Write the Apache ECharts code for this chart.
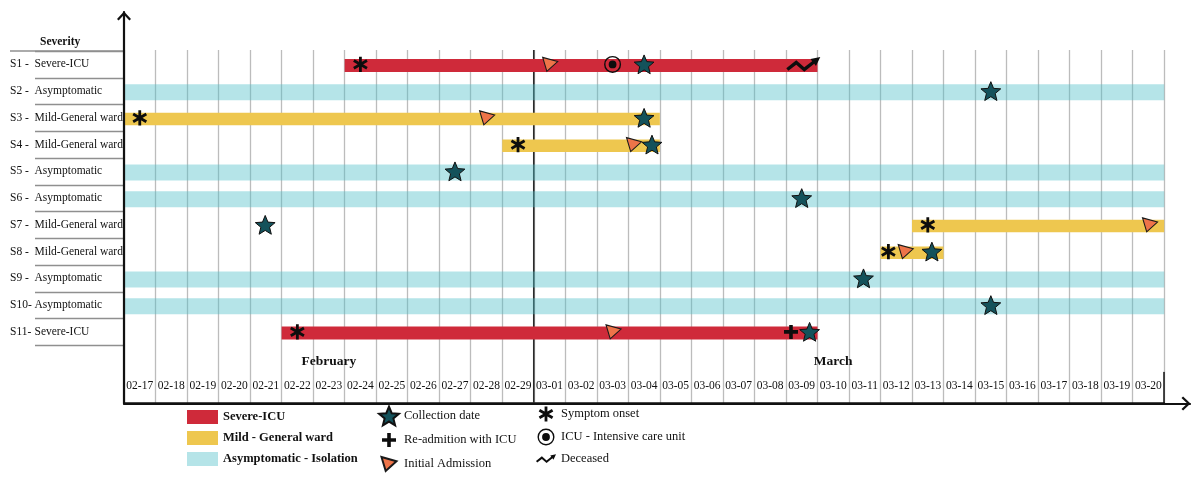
<!DOCTYPE html>
<html><head><meta charset="utf-8">
<script src="https://cdn.jsdelivr.net/npm/echarts@6/dist/echarts.min.js"></script>
<style>html,body{margin:0;padding:0;background:#fff}#c{width:1200px;height:483px}</style>
</head><body><div id="c"></div>
<script>
// ---------- data ----------
const dates = ['02-17','02-18','02-19','02-20','02-21','02-22','02-23','02-24','02-25','02-26','02-27','02-28','02-29',
  '03-01','03-02','03-03','03-04','03-05','03-06','03-07','03-08','03-09','03-10','03-11','03-12','03-13','03-14',
  '03-15','03-16','03-17','03-18','03-19','03-20'];
const subjects = ['S1','S2','S3','S4','S5','S6','S7','S8','S9','S10','S11'];
const subjectTags = ['S1 -','S2 -','S3 -','S4 -','S5 -','S6 -','S7 -','S8 -','S9 -','S10-','S11-'];
const subjectGroups = ['Severe-ICU','Asymptomatic','Mild-General ward','Mild-General ward','Asymptomatic','Asymptomatic',
  'Mild-General ward','Mild-General ward','Asymptomatic','Asymptomatic','Severe-ICU'];
const monthLabels = [['02-23','February'],['03-10','March']];
const monthStart = '03-01';

// [subject, first day, last day]
const severeIcuStays = [['S1','02-24','03-09'],['S11','02-22','03-09']];
const mildWardStays = [['S3','02-17','03-04'],['S4','02-29','03-04'],['S7','03-13','03-20'],['S8','03-12','03-13']];
const isolationStays = [['S2','02-17','03-20'],['S5','02-17','03-20'],['S6','02-17','03-20'],['S9','02-17','03-20'],['S10','02-17','03-20']];

// [subject, day, position within the day]
const collectionDates = [['S1','03-04',0.5],['S2','03-15',0.5],['S3','03-04',0.5],['S4','03-04',0.75],['S5','02-27',0.5],
  ['S6','03-09',0.5],['S7','02-21',0.48],['S8','03-13',0.63],['S9','03-11',0.46],['S10','03-15',0.5],['S11','03-09',0.75]];
const readmissionsIcu = [['S11','03-09',0.16]];
const initialAdmissions = [['S1','03-01',0.52],['S3','02-28',0.52],['S4','03-04',0.18],['S7','03-20',0.55],['S8','03-12',0.8],['S11','03-03',0.53]];
const symptomOnsets = [['S1','02-24',0.5],['S3','02-17',0.5],['S4','02-29',0.5],['S7','03-13',0.5],['S8','03-12',0.25],['S11','02-22',0.5]];
const icuAdmissions = [['S1','03-03',0.5]];
const deaths = [['S1','03-09',0.55]];

// ---------- helpers ----------
const dayIndex = d => dates.indexOf(d);
const stayData = arr => arr.map(([s,a,b]) => [dayIndex(a), dayIndex(b) + 1, s]);
const eventData = arr => arr.map(([s,d,f]) => [dayIndex(d) + f, s]);
const monthMap = Object.fromEntries(monthLabels);
const FONT = '"Liberation Serif","Times New Roman",serif';

// symbol shapes (20x20 box, 1 unit = 1px at symbolSize 20)
const PAD = ' M-10 -10 M10 10';
const STAR = 'path://M0 -9.45 L2.704 -2.772 L9.891 -2.264 L4.375 2.371 L6.113 9.364 L0 5.55 L-6.113 9.364 L-4.375 2.371 L-9.891 -2.264 L-2.704 -2.772 Z' + PAD;
const TRI = 'path://M-7.5 -7 L7.5 -2.8 L-3.3 7 Z' + PAD;
const PLUS = 'path://M-1.8 -7 L1.8 -7 L1.8 -1.8 L7 -1.8 L7 1.8 L1.8 1.8 L1.8 7 L-1.8 7 L-1.8 1.8 L-7 1.8 L-7 -1.8 L-1.8 -1.8 Z' + PAD;
const AST = 'path://M-1.4 -7.6 L-1.4 7.6 L1.4 7.6 L1.4 -7.6 Z M5.882 5.013 L7.282 2.588 L-5.882 -5.013 L-7.282 -2.588 Z M-7.282 2.588 L-5.882 5.013 L7.282 -2.588 L5.882 -5.013 Z' + PAD;
const RING = 'path://M-8.5 0 A8.5 8.5 0 1 0 8.5 0 A8.5 8.5 0 1 0 -8.5 0 Z M-7.1 0 A7.1 7.1 0 1 1 7.1 0 A7.1 7.1 0 1 1 -7.1 0 Z M-3.9 0 A3.9 3.9 0 1 0 3.9 0 A3.9 3.9 0 1 0 -3.9 0 Z' + PAD;
// zigzag arrow in a 34 x 29.6 box
const DEAD = 'path://M-17.04 3.81 L-7 -4.05 L1 2.95 L8.96 -3.19 L7.24 -5.4 L17.1 -7.35 L12.76 1.7 L11.04 -0.51 L1 7.35 L-7 0.35 L-14.96 6.49 Z M-17 -14.8 M17 14.8';
const CHEVRON = 'path://M0 7.4 L7 0 L14 7.4 L12.4 9 L7 3.2 L1.6 9 Z';

function staySeries(name, data, color, h) {
  return {
    type: 'custom', name, xAxisIndex: 0, yAxisIndex: 0, z: 2,
    itemStyle: { color, opacity: 1 },
    encode: { x: [0, 1], y: 2 },
    data,
    renderItem: (params, api) => {
      const p0 = api.coord([api.value(0), api.value(2)]);
      const p1 = api.coord([api.value(1), api.value(2)]);
      return { type: 'rect', shape: { x: p0[0], y: p0[1] - h / 2 + 1, width: p1[0] - p0[0], height: h }, style: api.style() };
    }
  };
}
function eventSeries(name, data, symbol, size, style) {
  return { type: 'scatter', name, xAxisIndex: 0, yAxisIndex: 0, z: 4, symbol, symbolSize: size,
    itemStyle: Object.assign({ opacity: 1 }, style), data, emphasis: { scale: false } };
}

const hidden = { axisLine: { show: false }, axisTick: { show: false }, axisLabel: { show: false }, splitLine: { show: false } };
const L = 124, R = 35.8;

const option = {
  animation: false,
  backgroundColor: '#fff',
  title: { text: 'Severity', left: 40, top: 36, padding: 0,
    textStyle: { fontFamily: FONT, fontSize: 11.5, fontWeight: 'bold', color: '#111' } },
  graphic: [{ type: 'line', shape: { x1: 10, y1: 51, x2: 124, y2: 51 }, style: { stroke: '#8f8f8f', lineWidth: 1.4 } }],
  grid: [
    { left: L, right: R, top: 51, height: 294.25 },          // 0 plot rows
    { left: L, right: R, top: 50, bottom: 80 },              // 1 day gridlines
    { left: L, right: R, top: 372.5, bottom: 80 },           // 2 date table
    { left: L, right: 10, top: 12, bottom: 79.5 }            // 3 axis frame
  ],
  xAxis: [
    Object.assign({ type: 'value', gridIndex: 0, min: 0, max: dates.length }, hidden),
    Object.assign({}, hidden, { type: 'value', gridIndex: 1, min: 0, max: dates.length, interval: 1,
      splitLine: { show: true, lineStyle: { color: '#bcbcbc', width: 1.3 } } }),
    { type: 'category', gridIndex: 2, data: dates, position: 'top',
      axisLine: { show: true, lineStyle: { color: '#111', width: 1.5 } }, axisTick: { show: false },
      axisLabel: { inside: true, interval: 0, margin: 7.5, fontFamily: FONT, fontSize: 11.5, color: '#111' } },
    { type: 'category', gridIndex: 2, data: dates, position: 'top',
      axisLine: { show: false }, axisTick: { show: false },
      axisLabel: { interval: 0, margin: 4, formatter: v => monthMap[v] || '', fontFamily: FONT, fontSize: 13.5, fontWeight: 'bold', color: '#111' } },
    Object.assign({}, hidden, { type: 'value', gridIndex: 3, min: 0, max: 1, z: 10,
      axisLine: { show: true, onZero: false, symbol: ['none', CHEVRON], symbolSize: [14, 9], symbolOffset: [0, -4],
        lineStyle: { color: '#111', width: 2.2 } } })
  ],
  yAxis: [
    { type: 'category', gridIndex: 0, data: subjects, inverse: true,
      axisLine: { show: false }, splitLine: { show: false },
      axisTick: { show: true, length: 89, lineStyle: { color: '#8f8f8f', width: 1.4 } },
      axisLabel: { interval: 0, align: 'left', margin: 114,
        formatter: (v, i) => `{t|${subjectTags[i]}}{g|${subjectGroups[i]}}`,
        rich: { t: { width: 24.5, fontFamily: FONT, fontSize: 11.5, color: '#111' },
                g: { fontFamily: FONT, fontSize: 11.5, color: '#111' } } } },
    Object.assign({ type: 'value', gridIndex: 1, min: 0, max: 1 }, hidden),
    Object.assign({}, hidden, { type: 'value', gridIndex: 2, min: 0, max: 1, position: 'right',
      axisLine: { show: true, onZero: false, lineStyle: { color: '#111', width: 1.5 } } }),
    Object.assign({}, hidden, { type: 'value', gridIndex: 3, min: 0, max: 1, z: 10,
      axisLine: { show: true, onZero: false, symbol: ['none', CHEVRON], symbolSize: [14, 9], symbolOffset: [0, -4],
        lineStyle: { color: '#111', width: 2.2 } } })
  ],
  legend: [
    { data: [{ name: 'Severe-ICU', icon: 'rect' }, { name: 'Mild - General ward', icon: 'rect' }, { name: 'Asymptomatic - Isolation', icon: 'rect' }],
      orient: 'vertical', left: 187, top: 410, itemWidth: 31, itemHeight: 14, itemGap: 7, padding: 0, selectedMode: false,
      textStyle: { fontFamily: FONT, fontSize: 12.5, fontWeight: 'bold', color: '#111' } },
    { data: ['Collection date', 'Re-admition with ICU', 'Initial Admission'],
      orient: 'vertical', left: 378, top: 405, itemWidth: 20, itemHeight: 20, itemGap: 3, padding: 0, selectedMode: false,
      textStyle: { fontFamily: FONT, fontSize: 12.5, color: '#111' } },
    { data: ['Symptom onset', 'ICU - Intensive care unit', 'Deceased'],
      orient: 'vertical', left: 536, top: 404, itemWidth: 20, itemHeight: 20, itemGap: 3, padding: 0, selectedMode: false,
      textStyle: { fontFamily: FONT, fontSize: 12.5, color: '#111' } }
  ],
  series: [
    { type: 'custom', name: 'month boundary', xAxisIndex: 1, yAxisIndex: 1, z: 1, silent: true,
      data: [[dayIndex(monthStart), 0]], encode: { x: 0, y: 1 },
      renderItem: (params, api) => {
        const x = api.coord([api.value(0), 0])[0];
        const cs = params.coordSys;
        return { type: 'line', shape: { x1: x, y1: cs.y, x2: x, y2: cs.y + cs.height }, style: { stroke: '#2a2a2a', lineWidth: 1.6 } };
      } },
    staySeries('Severe-ICU', stayData(severeIcuStays), '#cf2a3a', 13),
    staySeries('Mild - General ward', stayData(mildWardStays), '#eec74f', 12.5),
    staySeries('Asymptomatic - Isolation', stayData(isolationStays), 'rgba(78,190,200,0.42)', 16),
    eventSeries('Symptom onset', eventData(symptomOnsets), AST, 20, { color: '#0d0d0d' }),
    eventSeries('Initial Admission', eventData(initialAdmissions), TRI, 20, { color: '#ee7449', borderColor: '#1a1a1a', borderWidth: 1.1 }),
    eventSeries('ICU - Intensive care unit', eventData(icuAdmissions), RING, 20, { color: '#0d0d0d' }),
    eventSeries('Re-admition with ICU', eventData(readmissionsIcu), PLUS, 20, { color: '#0d0d0d' }),
    eventSeries('Deceased', eventData(deaths), DEAD, [34, 29.6], { color: '#0d0d0d' }),
    eventSeries('Collection date', eventData(collectionDates), STAR, 20, { color: '#14525b', borderColor: '#111', borderWidth: 1 })
  ]
};

const chart = echarts.init(document.getElementById('c'), null, { renderer: 'canvas' });
chart.setOption(option);
</script>
</body></html>
